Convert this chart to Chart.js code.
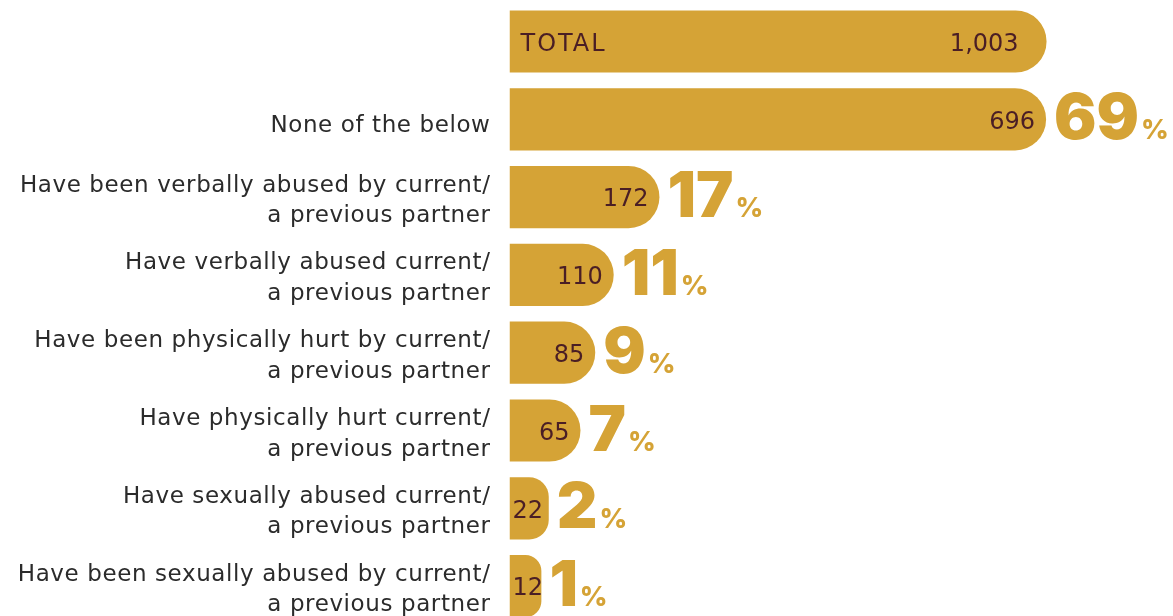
<!DOCTYPE html>
<html>
<head>
<meta charset="utf-8">
<script src="https://cdn.jsdelivr.net/npm/chart.js@4/dist/chart.umd.min.js"></script>
<style>
  html, body { margin: 0; padding: 0; background: #ffffff; overflow: hidden; }
  #wrap { position: relative; width: 1173px; height: 626px; }
</style>
</head>
<body>
<div id="wrap"><canvas id="chart"></canvas></div>
<script>
// Row labels (first row is the total bar, labelled inside the bar)
const rowLabels = [
  '',
  'None of the below',
  ['Have been verbally abused by current/', 'a previous partner'],
  ['Have verbally abused current/', 'a previous partner'],
  ['Have been physically hurt by current/', 'a previous partner'],
  ['Have physically hurt current/', 'a previous partner'],
  ['Have sexually abused current/', 'a previous partner'],
  ['Have been sexually abused by current/', 'a previous partner']
];
const totalLabel = 'TOTAL';
const totalCount = 1003;
const counts = [696, 172, 110, 85, 65, 22, 12];
const percents = [69, 17, 11, 9, 7, 2, 1];

const GOLD = '#D5A336';
const MAROON = '#4A1E25';
const LABEL = '#2B2B2B';
const FONT = "'DejaVu Sans', sans-serif";
const BOLD = "Inter, 'DejaVu Sans', sans-serif";

// value axes start a little below zero so the smallest bars stay visible
const X_MIN = -31.2, X_MAX = 868;
const X2_MIN = -44.9, X2_MAX = 1249.7;

const countData = [null].concat(counts);
const totalData = [totalCount].concat(counts.map(() => null));

// category labels, right-aligned next to the bars
const rowText = {
  id: 'rowText',
  afterDraw(chart) {
    const ctx = chart.ctx;
    const y = chart.scales.y;
    const right = chart.chartArea.left - 19;
    ctx.save();
    ctx.fillStyle = LABEL;
    ctx.font = '23px ' + FONT;
    ctx.letterSpacing = '0.6px';
    ctx.textAlign = 'right';
    ctx.textBaseline = 'alphabetic';
    rowLabels.forEach((lab, i) => {
      const cy = y.getPixelForValue(i);
      if (Array.isArray(lab)) {
        ctx.fillText(lab[0], right, cy - 5.5);
        ctx.fillText(lab[1], right, cy + 25);
      } else if (lab) {
        ctx.fillText(lab, right, cy + 13);
      }
    });
    ctx.restore();
  }
};

const barLabels = {
  id: 'barLabels',
  afterDatasetsDraw(chart) {
    const ctx = chart.ctx;
    ctx.save();
    // total bar
    const tb = chart.getDatasetMeta(1).data[0];
    ctx.fillStyle = MAROON;
    ctx.font = '24px ' + FONT;
    ctx.textBaseline = 'middle';
    ctx.textAlign = 'left';
    ctx.letterSpacing = '2px';
    ctx.fillText(totalLabel, tb.base + 11, tb.y + 3);
    ctx.letterSpacing = '0px';
    ctx.textAlign = 'right';
    ctx.fillText(totalCount.toLocaleString('en-US'), tb.x - 28, tb.y + 3);

    // counts and percentages
    const meta = chart.getDatasetMeta(0);
    counts.forEach((v, i) => {
      const bar = meta.data[i + 1];
      const txt = String(v);
      ctx.font = '24px ' + FONT;
      ctx.fillStyle = MAROON;
      ctx.textBaseline = 'middle';
      const w = ctx.measureText(txt).width;
      let right = bar.x - 11;
      if (right - w < bar.base + 3) right = bar.base + 3 + w;
      ctx.textAlign = 'right';
      ctx.fillText(txt, right, bar.y + 3);

      const p = String(percents[i]);
      ctx.fillStyle = GOLD;
      ctx.textBaseline = 'alphabetic';
      ctx.textAlign = 'left';
      ctx.font = '900 63px ' + BOLD;
      const px = bar.x + 8;
      const baseY = bar.y + 20;
      ctx.fillText(p, px, baseY);
      const pw = ctx.measureText(p).width;
      ctx.font = '800 27px ' + BOLD;
      ctx.fillText('%', px + pw + 2, baseY);
    });
    ctx.restore();
  }
};

new Chart(document.getElementById('chart'), {
  type: 'bar',
  data: {
    labels: rowLabels,
    datasets: [
      {
        data: countData,
        xAxisID: 'x',
        base: X_MIN,
        backgroundColor: GOLD,
        borderRadius: 31,
        borderSkipped: 'start',
        grouped: false,
        barPercentage: 0.8,
        categoryPercentage: 1
      },
      {
        data: totalData,
        xAxisID: 'x2',
        base: X2_MIN,
        backgroundColor: GOLD,
        borderRadius: 31,
        borderSkipped: 'start',
        grouped: false,
        barPercentage: 0.8,
        categoryPercentage: 1
      }
    ]
  },
  options: {
    indexAxis: 'y',
    responsive: true,
    maintainAspectRatio: false,
    animation: false,
    layout: { padding: { top: 2.6, bottom: 1, left: 0, right: 0 } },
    plugins: { legend: { display: false }, tooltip: { enabled: false } },
    scales: {
      x: { type: 'linear', min: X_MIN, max: X_MAX, display: false },
      x2: { type: 'linear', min: X2_MIN, max: X2_MAX, display: false },
      y: {
        type: 'category',
        grid: { display: false, drawTicks: false },
        border: { display: false },
        ticks: { display: false },
        afterFit(scale) { scale.width = 509.5; }
      }
    }
  },
  plugins: [barLabels, rowText]
});
</script>
</body>
</html>
